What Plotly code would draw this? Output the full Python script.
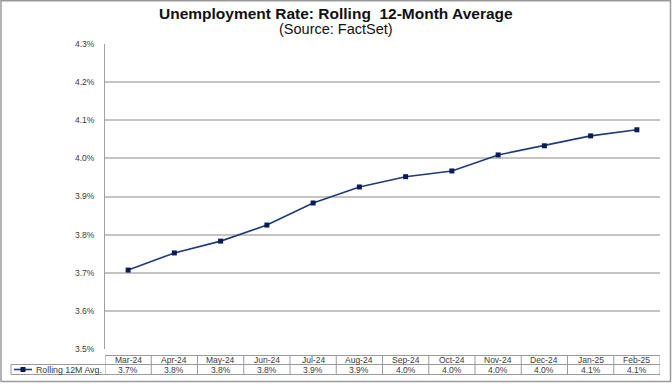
import plotly.graph_objects as go

months = ["Mar-24", "Apr-24", "May-24", "Jun-24", "Jul-24", "Aug-24",
          "Sep-24", "Oct-24", "Nov-24", "Dec-24", "Jan-25", "Feb-25"]
rolling_avg = [3.707, 3.752, 3.783, 3.825, 3.883, 3.925,
               3.952, 3.967, 4.009, 4.033, 4.059, 4.075]
series_name = "Rolling 12M Avg."
y_ticks = [3.5, 3.6, 3.7, 3.8, 3.9, 4.0, 4.1, 4.2, 4.3]

W, H = 672, 384
L, R, T, B = 105, 12, 44, 35
PW, PH = W - L - R, H - T - B
FONT = "Arial, Liberation Sans, sans-serif"
TXT = "#3a3a3a"
n = len(months)

def px_y(py):  # pixel y -> paper y
    return (H - B - py) / PH

def px_x(pxx):  # pixel x -> paper x
    return (pxx - L) / PW

fig = go.Figure()
fig.add_trace(go.Scatter(
    x=list(range(n)), y=rolling_avg, mode="lines+markers", name=series_name,
    line=dict(color="#1F3A7A", width=1.6),
    marker=dict(symbol="square", size=5, color="#0B1C55"),
    showlegend=False, cliponaxis=False))

shapes = []
ann = []
ytop, ymid, ybot = px_y(355.5), px_y(364.5), px_y(374.5)
line_style = dict(color="#9a9a9a", width=1)
leg_left = px_x(11)
# horizontal lines
shapes.append(dict(type="line", xref="paper", yref="paper", x0=0, x1=1, y0=ytop, y1=ytop, line=line_style))
shapes.append(dict(type="line", xref="paper", yref="paper", x0=leg_left, x1=1, y0=ymid, y1=ymid, line=line_style))
shapes.append(dict(type="line", xref="paper", yref="paper", x0=leg_left, x1=1, y0=ybot, y1=ybot, line=line_style))
shapes.append(dict(type="line", xref="paper", yref="paper", x0=leg_left, x1=leg_left, y0=ymid, y1=ybot, line=line_style))
for i in range(n + 1):
    shapes.append(dict(type="line", xref="x", yref="paper", x0=i - 0.5, x1=i - 0.5,
                       y0=ytop, y1=ybot, line=line_style))

for i, (m, v) in enumerate(zip(months, rolling_avg)):
    ann.append(dict(x=i, y=px_y(360), xref="x", yref="paper", text=m, showarrow=False,
                    font=dict(family=FONT, size=8.5, color=TXT), yanchor="middle"))
    ann.append(dict(x=i, y=px_y(369.5), xref="x", yref="paper", text=f"{v:.1f}%", showarrow=False,
                    font=dict(family=FONT, size=8.5, color=TXT), yanchor="middle"))

# legend key
shapes.append(dict(type="line", xref="paper", yref="paper", x0=px_x(14), x1=px_x(32),
                   y0=px_y(369.5), y1=px_y(369.5), line=dict(color="#1F3A7A", width=1.6)))
shapes.append(dict(type="rect", xref="paper", yref="paper", x0=px_x(20.5), x1=px_x(25.5),
                   y0=px_y(372), y1=px_y(367), fillcolor="#0B1C55", line=dict(width=0)))
ann.append(dict(x=px_x(34), y=px_y(369.5), xref="paper", yref="paper", text=series_name,
                showarrow=False, xanchor="left", yanchor="middle",
                font=dict(family=FONT, size=8.8, color=TXT)))

# outer border
shapes.append(dict(type="rect", xref="paper", yref="paper", x0=px_x(1), x1=px_x(670.5),
                   y0=px_y(381.5), y1=px_y(0.8), line=dict(color="#9a9a9a", width=1.5),
                   fillcolor="rgba(0,0,0,0)", layer="below"))

# titles
ann.append(dict(x=px_x(336), y=px_y(13.5), xref="paper", yref="paper",
                text="<b>Unemployment Rate: Rolling  12-Month Average</b>", showarrow=False,
                font=dict(family=FONT, size=15.5, color="#111111"), yanchor="middle"))
ann.append(dict(x=px_x(336), y=px_y(29.5), xref="paper", yref="paper",
                text="(Source: FactSet)", showarrow=False,
                font=dict(family=FONT, size=14.5, color="#111111"), yanchor="middle"))

fig.update_layout(
    width=W, height=H, margin=dict(l=L, r=R, t=T, b=B),
    paper_bgcolor="white", plot_bgcolor="white",
    shapes=shapes, annotations=ann,
    xaxis=dict(range=[-0.5, n - 0.5], showticklabels=False, showgrid=False,
               zeroline=False, showline=False, ticks="", fixedrange=True),
    yaxis=dict(range=[3.5, 4.3], tickvals=y_ticks, ticktext=[f"{t:.1f}%" for t in y_ticks],
               showgrid=True, gridcolor="#c4c4c4", gridwidth=1.6, zeroline=False,
               showline=True, linecolor="#a0a0a0", linewidth=1, ticks="",
               tickfont=dict(family=FONT, size=8.5, color=TXT), ticklabelstandoff=8),
)

fig.write_html("out.html", config={"displayModeBar": False},
               post_script="document.body.style.margin='0';document.body.style.overflow='hidden';")
